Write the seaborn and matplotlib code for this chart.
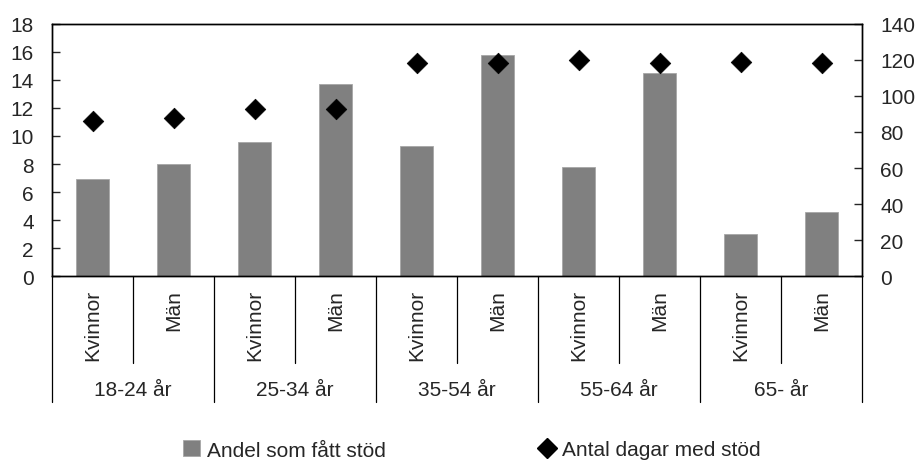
import numpy as np
import pandas as pd
import matplotlib
matplotlib.use("Agg")
import matplotlib.pyplot as plt
import matplotlib.transforms as mtransforms
from matplotlib.lines import Line2D
from matplotlib.patches import Patch
import seaborn as sns

# Data
age_groups = ["18-24 år", "25-34 år", "35-54 år", "55-64 år", "65- år"]
sexes = ["Kvinnor", "Män"]
andel = [6.9, 8.0, 9.6, 13.7, 9.3, 15.8, 7.8, 14.5, 3.0, 4.6]
dagar = [86, 88, 93, 93, 118, 118, 120, 118, 119, 118]

df = pd.DataFrame({
    "grupp": [g for g in age_groups for s in sexes],
    "kon": [s for g in age_groups for s in sexes],
    "andel": andel,
    "dagar": dagar,
})
df["kat"] = df["grupp"] + " " + df["kon"]

sns.set_style("white")
plt.rcParams["font.family"] = ["Liberation Sans", "DejaVu Sans"]
plt.rcParams["font.size"] = 15
FS = 15

fig = plt.figure(figsize=(9.17, 4.64), dpi=100)
ax = fig.add_axes([52 / 917, 1 - 277.3 / 464, 810 / 917, 252.6 / 464])

sns.barplot(data=df, x="kat", y="andel", color="#808080", width=0.4,
            edgecolor="#a6a6a6", linewidth=0.6, saturation=1, ax=ax)

ax2 = ax.twinx()
sns.scatterplot(data=df, x="kat", y="dagar", marker="D", color="black",
                s=110, edgecolor="black", linewidth=0.5, ax=ax2, zorder=5)

ax.set_xlim(-0.5, len(df) - 0.5)
ax.set_ylim(0, 18)
ax.set_yticks(np.arange(0, 19, 2))
ax2.set_ylim(0, 140)
ax2.set_yticks(np.arange(0, 141, 20))

for a in (ax, ax2):
    a.set_xlabel("")
    a.set_ylabel("")
    a.set_xticks([])
    for sp in a.spines.values():
        sp.set_color("black")
        sp.set_linewidth(1.0)
ax.tick_params(axis="y", direction="in", length=6, width=1, labelsize=FS,
               left=True, pad=13)
ax2.tick_params(axis="y", direction="in", length=6, width=1, labelsize=FS,
                right=True, pad=13)

# Multi-level category axis
trans = mtransforms.blended_transform_factory(ax.transData, fig.transFigure)
yb = 1 - 277.3 / 464
y_inner = 1 - 364 / 464
y_group = 1 - 403 / 464
for i in range(len(df) + 1):
    x = i - 0.5
    low = y_group if i % 2 == 0 else y_inner
    ax.add_line(Line2D([x, x], [yb, low], transform=trans, color="black",
                       linewidth=0.9, clip_on=False))
for i, row in df.iterrows():
    ax.text(i, 1 - 290 / 464, row["kon"], rotation=90, ha="center", va="top",
            transform=trans, fontsize=FS)
for j, g in enumerate(age_groups):
    ax.text(2 * j + 0.5, 1 - 390 / 464, g, ha="center", va="center",
            transform=trans, fontsize=FS)

# Legend, two entries placed separately
y_leg = 1 - 451 / 464
leg1 = fig.legend([Patch(facecolor="#808080", edgecolor="#a6a6a6", linewidth=0.6)],
                  ["Andel som fått stöd"], loc="center left",
                  bbox_to_anchor=(183 / 917, y_leg), frameon=False, fontsize=FS,
                  borderpad=0, borderaxespad=0, handlelength=0.8,
                  handleheight=0.8, handletextpad=0.35)
leg2 = fig.legend([Line2D([], [], marker="D", color="black", linestyle="none",
                          markersize=10)],
                  ["Antal dagar med stöd"], loc="center left",
                  bbox_to_anchor=(538.5 / 917, y_leg), frameon=False, fontsize=FS,
                  borderpad=0, borderaxespad=0, handlelength=0.8,
                  handletextpad=0.32)

fig.savefig("out.png", dpi=100)
